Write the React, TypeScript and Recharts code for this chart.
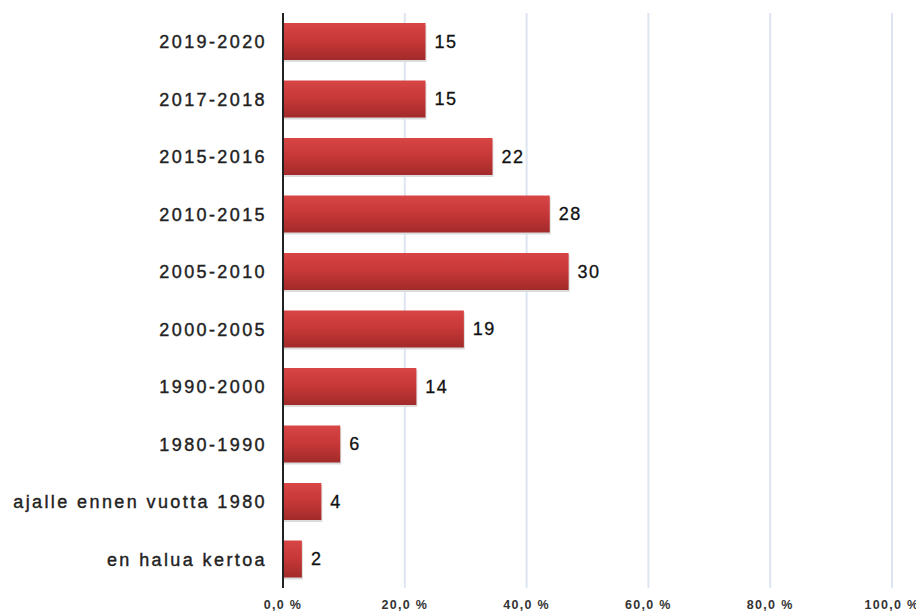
import React from 'react';
import { BarChart, Bar, XAxis, YAxis, CartesianGrid, LabelList } from 'recharts';

const categories = [
  '2019-2020',
  '2017-2018',
  '2015-2016',
  '2010-2015',
  '2005-2010',
  '2000-2005',
  '1990-2000',
  '1980-1990',
  'ajalle ennen vuotta 1980',
  'en halua kertoa',
];
const percents = [23.4, 23.4, 34.4, 43.8, 46.9, 29.7, 21.9, 9.4, 6.3, 3.1];
const counts = [15, 15, 22, 28, 30, 19, 14, 6, 4, 2];
const xTicks = [0, 20, 40, 60, 80, 100];

const data = categories.map((name, i) => ({ name, pct: percents[i], count: counts[i] }));

const ShadowBar = (props: any) => {
  const { x, y, width, height } = props;
  if (!width || width <= 0) return null;
  return (
    <g>
      <rect x={x + 1} y={y + 2} width={width} height={height} fill="#dcdcdc" />
      <rect x={x} y={y} width={width} height={height} fill="url(#barGrad)" />
    </g>
  );
};

const App: React.FC = () => {
  return (
    <div style={{ fontFamily: 'Liberation Sans, Arial, sans-serif' }}>
      <BarChart
        width={916}
        height={603}
        data={data}
        layout="vertical"
        margin={{ top: 5, right: 32, bottom: 0, left: 0 }}
      >
        <defs>
          <linearGradient id="barGrad" x1="0" y1="0" x2="0" y2="1">
            <stop offset="0%" stopColor="#d84545" />
            <stop offset="50%" stopColor="#c63737" />
            <stop offset="100%" stopColor="#a22a2a" />
          </linearGradient>
        </defs>
        <CartesianGrid horizontal={false} stroke="#dde5f0" strokeWidth={2} />
        <XAxis
          type="number"
          domain={[0, 100]}
          ticks={xTicks}
          tickFormatter={(v: number) => `${v.toFixed(1).replace('.', ',')} %`}
          axisLine={false}
          tickLine={false}
          height={23}
          tickMargin={6}
          tick={{ fontSize: 12.5, fill: '#333', fontWeight: 'bold', letterSpacing: 1.3 }}
        />
        <YAxis
          type="category"
          dataKey="name"
          width={275}
          axisLine={{ stroke: '#222', strokeWidth: 2 }}
          tickLine={false}
          tickMargin={10}
          tick={{ fontSize: 18, fill: '#222', letterSpacing: 2.4, stroke: '#222', strokeWidth: 0.4 }}
        />
        <Bar dataKey="pct" barSize={37} shape={ShadowBar} isAnimationActive={false}>
          <LabelList
            dataKey="count"
            position="right"
            offset={9}
            style={{ fontSize: 18, fill: '#111', letterSpacing: 1.5, stroke: '#111', strokeWidth: 0.3 }}
          />
        </Bar>
      </BarChart>
    </div>
  );
};

export default App;
